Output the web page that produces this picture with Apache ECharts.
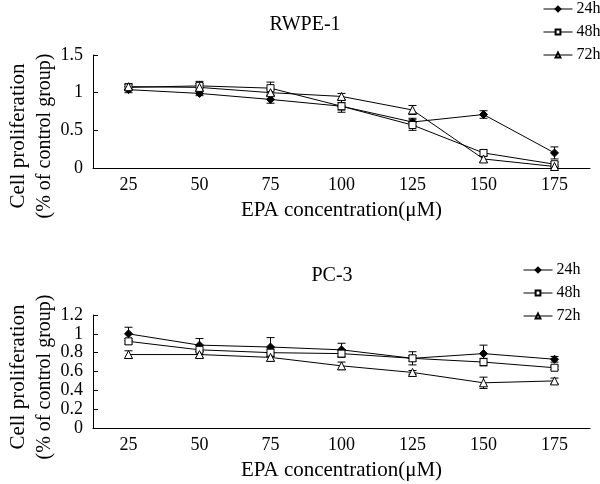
<!DOCTYPE html>
<html>
<head>
<meta charset="utf-8">
<script src="https://cdn.jsdelivr.net/npm/echarts@6/dist/echarts.min.js"></script>
<style>html,body{margin:0;padding:0;background:#fff}#c{width:600px;height:484px}</style>
</head>
<body>
<div id="c"></div>
<script>
var categories = ['25','50','75','100','125','150','175'];
var seriesNames = ['24h','48h','72h'];
// RWPE-1
var rwpe24 = [1.04, 0.99, 0.91, 0.82, 0.61, 0.71, 0.20];
var rwpe48 = [1.07, 1.09, 1.06, 0.82, 0.57, 0.20, 0.05];
var rwpe72 = [1.08, 1.07, 1.00, 0.95, 0.77, 0.12, 0.02];
var rwpeErr24 = [0.04, 0.03, 0.05, 0.05, 0.05, 0.05, 0.08];
var rwpeErr48 = [0.04, 0.06, 0.08, 0.08, 0.07, 0.04, 0.03];
var rwpeErr72 = [0.04, 0.05, 0.04, 0.04, 0.06, 0.04, 0.02];
// PC-3
var pc24 = [1.00, 0.88, 0.86, 0.83, 0.74, 0.79, 0.73];
var pc48 = [0.92, 0.83, 0.80, 0.79, 0.74, 0.70, 0.64];
var pc72 = [0.78, 0.78, 0.75, 0.66, 0.59, 0.48, 0.50];
var pcErr24 = [0.07, 0.07, 0.10, 0.07, 0.03, 0.09, 0.03];
var pcErr48 = [0.03, 0.05, 0.04, 0.04, 0.07, 0.04, 0.02];
var pcErr72 = [0.04, 0.03, 0.04, 0.04, 0.02, 0.06, 0.03];
var rwpeTicks = [0, 0.5, 1, 1.5];
var pcTicks = [0, 0.2, 0.4, 0.6, 0.8, 1, 1.2];

var FONT = 'Liberation Serif';
var markers = [
  {symbol: 'diamond', size: 8, fill: '#000'},
  {symbol: 'rect', size: 7, fill: '#fff'},
  {symbol: 'triangle', size: 8, fill: '#fff'}
];

function lineSeries(name, data, idx, gi) {
  var m = markers[idx];
  return {
    type: 'line', name: name, data: data,
    xAxisIndex: gi, yAxisIndex: gi,
    symbol: m.symbol, symbolSize: m.size, showAllSymbol: true,
    lineStyle: {color: '#000', width: 1},
    itemStyle: {color: m.fill, borderColor: '#000', borderWidth: 1},
    z: 3, animation: false
  };
}
function errSeries(vals, errs, gi) {
  var d = vals.map(function (v, i) { return [i, v - errs[i], v + errs[i]]; });
  return {
    type: 'custom', xAxisIndex: gi, yAxisIndex: gi, data: d, z: 2, silent: true, animation: false,
    renderItem: function (params, api) {
      var lo = api.coord([api.value(0), api.value(1)]);
      var hi = api.coord([api.value(0), api.value(2)]);
      var w = 4;
      var st = {stroke: '#000', lineWidth: 1};
      return {type: 'group', children: [
        {type: 'line', shape: {x1: lo[0], y1: lo[1], x2: hi[0], y2: hi[1]}, style: st},
        {type: 'line', shape: {x1: lo[0]-w, y1: lo[1], x2: lo[0]+w, y2: lo[1]}, style: st},
        {type: 'line', shape: {x1: hi[0]-w, y1: hi[1], x2: hi[0]+w, y2: hi[1]}, style: st}
      ]};
    }
  };
}
function xAx(gi) {
  return {
    type: 'category', gridIndex: gi, data: categories, boundaryGap: true,
    axisLine: {lineStyle: {color: '#000', width: 1}},
    axisTick: {inside: true, length: 5, lineStyle: {color: '#000'}},
    axisLabel: {color: '#000', fontFamily: FONT, fontSize: 18, margin: 8},
    name: 'EPA concentration(μM)', nameLocation: 'middle', nameGap: 32,
    nameTextStyle: {color: '#000', fontFamily: FONT, fontSize: 21}
  };
}
function yAx(gi, ticks) {
  return {
    type: 'value', gridIndex: gi, min: ticks[0], max: ticks[ticks.length-1],
    interval: ticks[1] - ticks[0],
    axisLine: {show: true, lineStyle: {color: '#000', width: 1}},
    axisTick: {show: true, inside: true, length: 5, lineStyle: {color: '#000'}},
    splitLine: {show: false},
    axisLabel: {color: '#000', fontFamily: FONT, fontSize: 18, margin: 10,
      formatter: function (v) { return String(Math.round(v * 10) / 10); }}
  };
}
function yName(cy) {
  return [
    {type: 'text', x: 18, y: cy, rotation: Math.PI / 2,
      style: {text: 'Cell proliferation', font: '21px "Liberation Serif"', fill: '#000', textAlign: 'center', textVerticalAlign: 'middle'}},
    {type: 'text', x: 45, y: cy, rotation: Math.PI / 2,
      style: {text: '(% of control group)', font: '20px "Liberation Serif"', fill: '#000', textAlign: 'center', textVerticalAlign: 'middle'}}
  ];
}
function legend(left, top, gi) {
  return {
    left: left, top: top, orient: 'vertical', data: seriesNames, padding: 0,
    itemWidth: 29, itemHeight: 6, itemGap: 7,
    lineStyle: {width: 1, color: '#000'},
    textStyle: {color: '#000', fontFamily: FONT, fontSize: 16, padding: [0, 0, 0, -1]},
    selectedMode: false
  };
}

var chart = echarts.init(document.getElementById('c'), null, {renderer: 'canvas'});
chart.setOption({
  animation: false,
  backgroundColor: '#fff',
  title: [
    {text: 'RWPE-1', left: 300, top: 10, textAlign: 'center',
      textStyle: {color: '#000', fontFamily: FONT, fontSize: 20, fontWeight: 'normal'}},
    {text: 'PC-3', left: 327, top: 261, textAlign: 'center',
      textStyle: {color: '#000', fontFamily: FONT, fontSize: 20, fontWeight: 'normal'}}
  ],
  legend: [legend(543, 1, 0), legend(523, 262, 1)],
  grid: [
    {left: 93, right: 10, top: 55, height: 113, containLabel: false},
    {left: 93, right: 10, top: 315, height: 113, containLabel: false}
  ],
  xAxis: [xAx(0), xAx(1)],
  yAxis: [yAx(0, rwpeTicks), yAx(1, pcTicks)],
  graphic: yName(136).concat(yName(377)),
  series: [
    errSeries(rwpe24, rwpeErr24, 0), errSeries(rwpe48, rwpeErr48, 0), errSeries(rwpe72, rwpeErr72, 0),
    lineSeries('24h', rwpe24, 0, 0), lineSeries('48h', rwpe48, 1, 0), lineSeries('72h', rwpe72, 2, 0),
    errSeries(pc24, pcErr24, 1), errSeries(pc48, pcErr48, 1), errSeries(pc72, pcErr72, 1),
    lineSeries('24h', pc24, 0, 1), lineSeries('48h', pc48, 1, 1), lineSeries('72h', pc72, 2, 1)
  ]
});
</script>
</body>
</html>
